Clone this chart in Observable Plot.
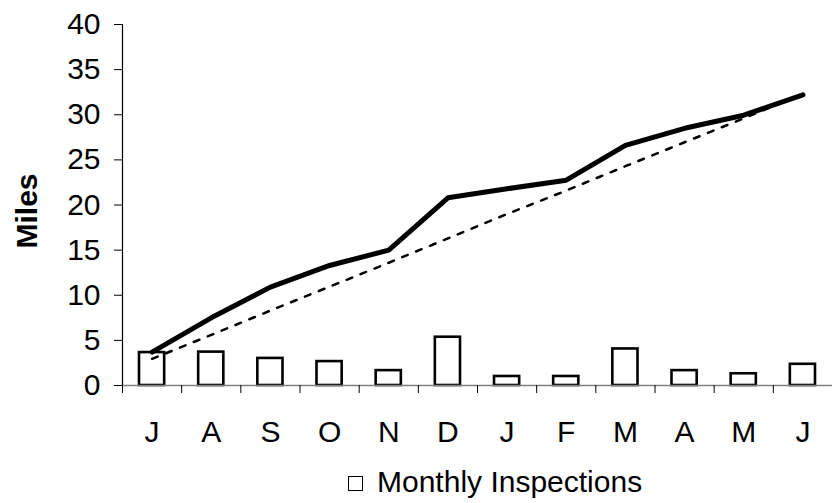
<!DOCTYPE html>
<html>
<head>
<meta charset="utf-8">
<script src="https://cdn.jsdelivr.net/npm/d3@7"></script>
<script src="https://cdn.jsdelivr.net/npm/@observablehq/plot@0.6"></script>
<style>
  body { margin: 0; background: #fff; font-family: "Liberation Sans", Arial, sans-serif; }
  #wrap { position: relative; width: 832px; height: 503px; overflow: hidden; }
  #ylab { position: absolute; left: 27px; top: 211px; font-size: 30px; font-weight: bold; color: #000; line-height: 30px; white-space: nowrap; transform: translate(-50%, -50%) rotate(-90deg); }
  #legend { position: absolute; left: 0; top: 460px; width: 832px; height: 43px; }
  #legend .sw { position: absolute; left: 348px; top: 16px; width: 13px; height: 13px; border: 1.7px solid #000; background: #fff; }
  #legend .lb { position: absolute; left: 377px; top: 5px; font-size: 30px; line-height: 34px; color: #000; white-space: nowrap; }
</style>
</head>
<body>
<div id="wrap"><div id="chart"></div><div id="ylab">Miles</div><div id="legend"><span class="sw"></span><span class="lb">Monthly Inspections</span></div></div>
<script>
const months = ["J","A","S","O","N","D","J","F","M","A","M","J"];
const inspections = [3.65, 3.7, 3.0, 2.65, 1.65, 5.35, 1.0, 1.0, 4.05, 1.65, 1.3, 2.35];
const cumulativeMiles = [3.7, 7.5, 10.9, 13.3, 15.0, 20.8, 21.8, 22.75, 26.6, 28.5, 29.95, 32.2];
const targetMiles = [2.95, 5.6, 8.3, 10.95, 13.6, 16.3, 19.0, 21.6, 24.3, 26.95, 29.6, 32.3];
const yTicks = [0, 5, 10, 15, 20, 25, 30, 35, 40];

const rows = months.map((m, i) => ({i, m, insp: inspections[i], cum: cumulativeMiles[i], target: targetMiles[i]}));

const chart = Plot.plot({
  width: 832,
  height: 460,
  marginTop: 24,
  marginBottom: 75,
  marginLeft: 122,
  marginRight: 0,
  style: {fontFamily: "'Liberation Sans', Arial, sans-serif", fontSize: "30px", color: "#000", background: "#fff"},
  x: {type: "linear", domain: [0, months.length]},
  y: {domain: [0, 40]},
  marks: [
    Plot.rectY(rows, {x1: "i", x2: d => d.i + 1, y: "insp", insetLeft: 17, insetRight: 17, fill: "#fff", stroke: "#000", strokeWidth: 2.6}),
    Plot.ruleY([0], {stroke: "#808080", strokeWidth: 1.3}),
    Plot.ruleX([0], {stroke: "#000", strokeWidth: 1.2}),
    Plot.axisY({ticks: yTicks, tickSize: 8, tickPadding: 14, label: null, tickFormat: d => String(d)}),
    Plot.axisX({ticks: d3.range(0, months.length + 1), tickSize: 8, tickFormat: () => "", label: null}),
    Plot.axisX({ticks: d3.range(0.5, months.length, 1), tickSize: 0, tickPadding: 35, tickFormat: d => months[Math.floor(d)], label: null}),
    Plot.line(rows, {x: d => d.i + 0.5, y: "target", stroke: "#000", strokeWidth: 2.5, strokeDasharray: "6,9"}),
    Plot.line(rows, {x: d => d.i + 0.5, y: "cum", stroke: "#000", strokeWidth: 5, strokeLinecap: "round", strokeLinejoin: "round"})
  ]
});
document.getElementById("chart").appendChild(chart);
</script>
</body>
</html>
